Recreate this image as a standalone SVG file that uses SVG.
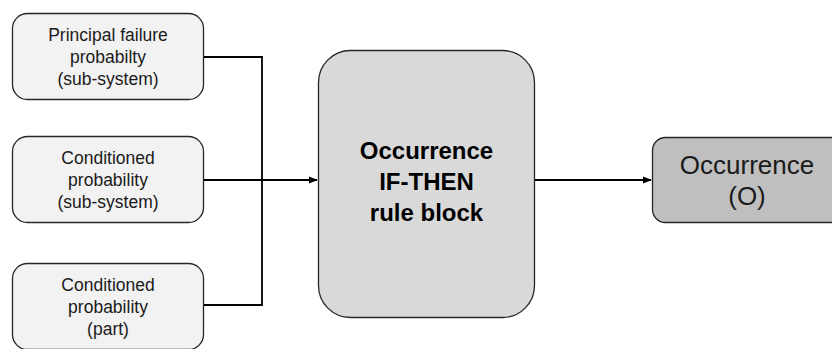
<svg xmlns="http://www.w3.org/2000/svg" width="832" height="349" viewBox="0 0 832 349">
  <style>
    .in rect { fill: #f2f2f2; stroke: #262626; stroke-width: 1.3; }
    .in text { font-family: "Liberation Sans", Arial, sans-serif; font-size: 17.5px; fill: #1a1a1a; text-anchor: middle; }
    .wire { fill: none; stroke: #000; stroke-width: 1.8; }
  </style>
  <defs>
    <marker id="arrow" viewBox="0 0 10 10" refX="9" refY="5" markerWidth="5" markerHeight="5" orient="auto" markerUnits="strokeWidth">
      <path d="M0,1 L10,5 L0,9 z" fill="#000"/>
    </marker>
  </defs>

  <g id="principal-failure" class="in">
    <rect x="12.5" y="13.5" width="191" height="86" rx="15"/>
    <text x="108" y="41">Principal failure</text>
    <text x="108" y="63">probabilty</text>
    <text x="108" y="85">(sub-system)</text>
  </g>

  <g id="conditioned-subsystem" class="in">
    <rect x="12.5" y="136.5" width="191" height="86" rx="15"/>
    <text x="108" y="164">Conditioned</text>
    <text x="108" y="186">probability</text>
    <text x="108" y="208">(sub-system)</text>
  </g>

  <g id="conditioned-part" class="in">
    <rect x="12.5" y="263.5" width="191" height="86" rx="15"/>
    <text x="108" y="291">Conditioned</text>
    <text x="108" y="313">probability</text>
    <text x="108" y="335">(part)</text>
  </g>

  <g id="rule-block">
    <rect x="318.5" y="50.5" width="216" height="267" rx="32" fill="#d9d9d9" stroke="#262626" stroke-width="1.3"/>
    <g font-family="Liberation Sans, Arial, sans-serif" font-size="24px" font-weight="bold" fill="#000" text-anchor="middle">
      <text x="426.5" y="159">Occurrence</text>
      <text x="426.5" y="190">IF-THEN</text>
      <text x="426.5" y="221">rule block</text>
    </g>
  </g>

  <g id="occurrence-output">
    <rect x="652.5" y="137.5" width="195" height="85" rx="13" fill="#bfbfbf" stroke="#262626" stroke-width="1.3"/>
    <g font-family="Liberation Sans, Arial, sans-serif" font-size="26px" fill="#1a1a1a" text-anchor="middle">
      <text x="747" y="174">Occurrence</text>
      <text x="747" y="205">(O)</text>
    </g>
  </g>

  <g id="connectors">
    <path class="wire" d="M204,57 H262 V305 H204"/>
    <path class="wire" d="M204,180 H317" marker-end="url(#arrow)"/>
    <path class="wire" d="M535,180 H651" marker-end="url(#arrow)"/>
  </g>
</svg>
